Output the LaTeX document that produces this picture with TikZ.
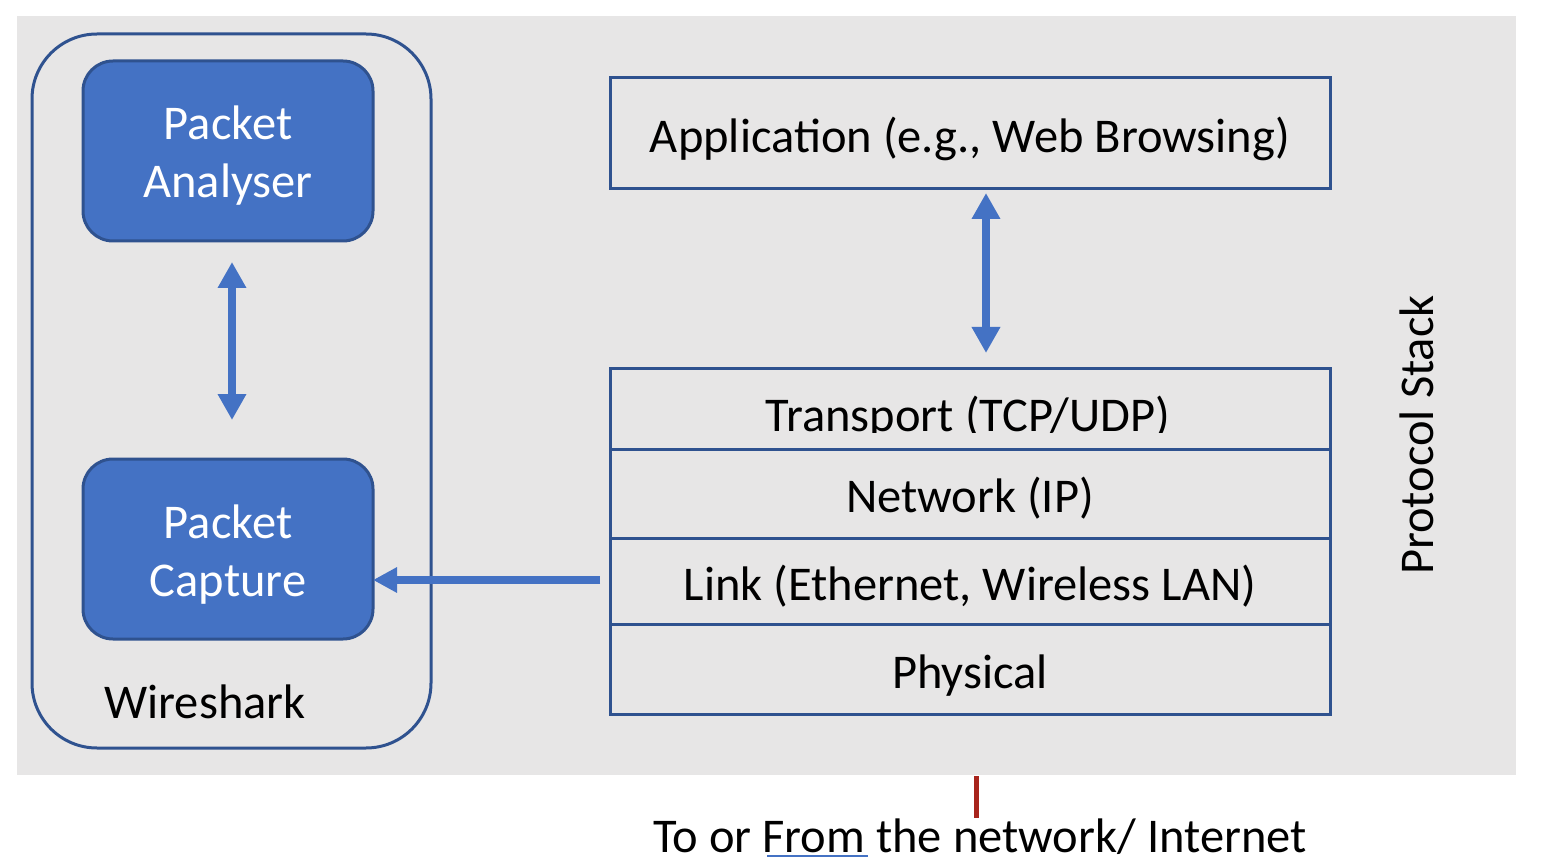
\documentclass[tikz,border=0pt]{standalone}
\usepackage{fontspec}
\setmainfont{Carlito}
\usetikzlibrary{arrows.meta,calc}
\definecolor{bg}{HTML}{E7E6E6}
\definecolor{acc}{HTML}{4472C4}
\definecolor{dk}{HTML}{2F528F}
\definecolor{rd}{HTML}{A8241C}
\begin{document}
\begin{tikzpicture}[x=1pt,y=-1pt,
  every node/.style={font=\fontsize{48.5}{58}\selectfont, inner sep=0pt, outer sep=0pt},
  pbox/.style={draw=dk, line width=3pt, fill=acc, rounded corners=30pt, text=white,
    align=center, minimum width=290pt, minimum height=180pt, text height=94pt, text depth=0pt},
  layer/.style={draw=dk, line width=3pt, minimum width=720pt, text height=38pt, text depth=0pt},
  dbl/.style={acc, line width=8pt, {Triangle[length=26pt,width=27pt]}-{Triangle[length=26pt,width=27pt]}},
  sgl/.style={acc, line width=8pt, -{Triangle[length=24pt,width=24pt]}}]
\useasboundingbox (0,0) rectangle (1560,858);
\fill[white] (0,0) rectangle (1560,858);
\fill[bg] (17,16) rectangle (1516,775);
% Wireshark container
\draw[dk, line width=3pt, rounded corners=65pt] (32,34) rectangle (431,748);
\node[anchor=base] (ws) at (205,718) {Wireshark};
\node[pbox] (pa) at (228,151) {Packet\\Analyser};
\node[pbox] (pc) at (228,549) {Packet\\Capture};
\draw[dbl] ($(pa.south)+(4,21)$) -- ($(pc.north)+(4,-39)$);
% Protocol stack
\node[layer, minimum height=111pt] (app) at (970,133.5) {Application (e.g., Web Browsing)};
\node[layer, minimum height=81pt] (tr) at (970,408.5) {};
\node[layer, minimum height=89pt] (nw) at (970,493.5) {Network (IP)};
\node[layer, minimum height=86pt] (ln) at (970,581) {Link (Ethernet, Wireless LAN)};
\node[layer, minimum height=90pt] (ph) at (970,669) {Physical};
\begin{scope}
\clip (612,370) rectangle (1328,432);
\node[anchor=base] (trt) at (968,431) {Transport (TCP/UDP)};
\end{scope}
\draw[dbl] ($(app.south)+(16,4)$) -- ($(tr.north)+(16,-15)$);
\node[rotate=90, anchor=base] (ps) at (1433,435) {Protocol Stack};
\draw[sgl] ($(ln.west)+(-10,-1)$) -- ($(pc.east |- ln.west)+(0,-1)$);
% bottom
\node[anchor=base] (net) at (980,852) {To or From the network/ Internet};
\coordinate (rtop) at (976,776);
\draw[rd, line width=5pt] (rtop) -- (rtop |- net.north);
\draw[acc, line width=2pt] (767,856) -- (868,856);
\end{tikzpicture}
\end{document}
